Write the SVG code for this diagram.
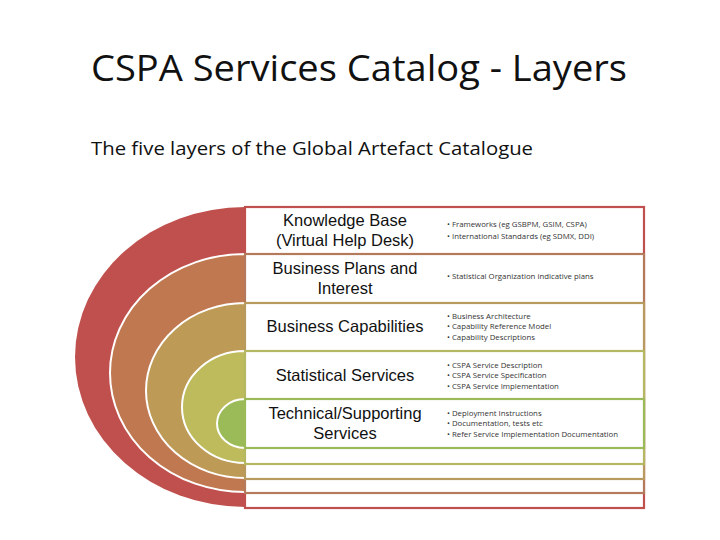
<svg xmlns="http://www.w3.org/2000/svg" width="720" height="540" viewBox="0 0 720 540">
<style>
.title{font-family:"Open Sans","Liberation Sans",sans-serif;font-size:36px;fill:#111}
.sub{font-family:"Open Sans","Liberation Sans",sans-serif;font-size:18px;fill:#111}
.lbl{font-family:"Liberation Sans",Arial,sans-serif;font-size:16.5px;fill:#111;text-anchor:middle}
.bul{font-family:"Open Sans","Liberation Sans",sans-serif;font-size:7.8px;fill:#333}
.arc{stroke:#fff;stroke-width:2}
.row{fill:#fff;stroke-width:2.2}
</style>
<rect width="720" height="540" fill="#fff"/>
<text class="title" x="91" y="81" textLength="536" lengthAdjust="spacingAndGlyphs">CSPA Services Catalog - Layers</text>
<text class="sub" x="91" y="155" textLength="442" lengthAdjust="spacingAndGlyphs">The five layers of the Global Artefact Catalogue</text>

<g id="layer1">
<path d="M245,207 A170,150 0 0 0 245,507 Z" fill="#c0504d"/>
<rect class="row" x="245" y="207" width="399" height="301" stroke="#c0504d"/>
</g>
<g id="layer2">
<path class="arc" d="M245,254 A135,119 0 0 0 245,492 Z" fill="#c07850"/>
<rect class="row" x="245" y="254" width="399" height="239" stroke="#b57a5c"/>
</g>
<g id="layer3">
<path class="arc" d="M245,303 A99,87.5 0 0 0 245,478 Z" fill="#bd9a55"/>
<rect class="row" x="245" y="303" width="399" height="176" stroke="#b89a5e"/>
</g>
<g id="layer4">
<path class="arc" d="M245,351 A63,56 0 0 0 245,463 Z" fill="#bdbb5b"/>
<rect class="row" x="245" y="351" width="399" height="113" stroke="#b5b862"/>
</g>
<g id="layer5">
<path class="arc" d="M245,399 A28,24.5 0 0 0 245,448 Z" fill="#9bbb59"/>
<rect class="row" x="245" y="399" width="399" height="49" stroke="#9bbb59"/>
</g>

<g id="labels">
<text class="lbl" x="345" y="226">Knowledge Base</text>
<text class="lbl" x="345" y="245.5">(Virtual Help Desk)</text>
<text class="lbl" x="345" y="274">Business Plans and</text>
<text class="lbl" x="345" y="293.5">Interest</text>
<text class="lbl" x="345" y="332">Business Capabilities</text>
<text class="lbl" x="345" y="381">Statistical Services</text>
<text class="lbl" x="345" y="419">Technical/Supporting</text>
<text class="lbl" x="345" y="438.5">Services</text>
</g>
<g id="bullets">
<text class="bul" x="447" y="226.5">• Frameworks (eg GSBPM, GSIM, CSPA)</text>
<text class="bul" x="447" y="238.5">• International Standards (eg SDMX, DDI)</text>
<text class="bul" x="447" y="278.5">• Statistical Organization indicative plans</text>
<text class="bul" x="447" y="318.5">• Business Architecture</text>
<text class="bul" x="447" y="329">• Capability Reference Model</text>
<text class="bul" x="447" y="339.5">• Capability Descriptions</text>
<text class="bul" x="447" y="367.5">• CSPA Service Description</text>
<text class="bul" x="447" y="378">• CSPA Service Specification</text>
<text class="bul" x="447" y="388.5">• CSPA Service Implementation</text>
<text class="bul" x="447" y="415.5">• Deployment Instructions</text>
<text class="bul" x="447" y="426">• Documentation, tests etc</text>
<text class="bul" x="447" y="436.5">• Refer Service Implementation Documentation</text>
</g>
</svg>
